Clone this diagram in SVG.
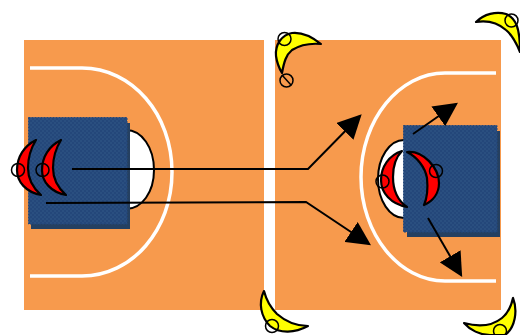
<svg xmlns="http://www.w3.org/2000/svg" width="520" height="335" viewBox="0 0 520 335">
<style>
.court{fill:#f79a4d}
.line{fill:none;stroke:#fff;stroke-width:3.500}
.oval{fill:#fff;stroke:#000;stroke-width:2}
.shadow{fill:#254061}
.zone{fill:url(#chk);stroke:#25497c;stroke-width:1;stroke-dasharray:2 1}
.red{fill:#f00;stroke:#000;stroke-width:2.200;stroke-linejoin:round}
.yel{fill:#ff0;stroke:#000;stroke-width:2.200;stroke-linejoin:round}
.ring{fill:none;stroke:#000;stroke-width:1.500}
.conn{fill:none;stroke:#000;stroke-width:2}
</style>
<defs>
<pattern id="chk" width="4" height="4" patternUnits="userSpaceOnUse">
<rect width="4" height="4" fill="#24477a"/>
<rect width="2" height="2" fill="#2a4f80"/>
<rect x="2" y="2" width="2" height="2" fill="#2a4f80"/>
</pattern>
<marker id="head" viewBox="0 0 10 10" refX="9" refY="5" markerUnits="userSpaceOnUse" markerWidth="24" markerHeight="24" orient="auto">
<path d="M0 0L10 5L0 10Z" fill="#000"/>
</marker>
</defs>
<g id="court-left">
<rect class="court" x="24" y="40" width="240" height="270"/>
<path class="line" d="M30 68H82C132 68 172 114 172 172S132 276 82 276H30"/>
</g>
<g id="court-right">
<rect class="court" x="275" y="40" width="226" height="270"/>
<path class="line" d="M496 73H445C399 73 361 120 361 177S399 281 445 281H496"/>
</g>
<g id="key-left">
<path class="oval" d="M120 130H126C142 130 154 148 154 170S142 209 126 209H120Z"/>
<rect class="shadow" x="31" y="123" width="99" height="106"/>
<rect class="zone" x="28.500" y="117.500" width="98.500" height="106.500"/>
</g>
<g id="key-right">
<ellipse class="oval" cx="404" cy="179" rx="26" ry="39"/>
<rect class="shadow" x="407" y="131" width="93" height="106"/>
<rect class="zone" x="403.500" y="125.500" width="93.500" height="106.500"/>
</g>
<g id="player-left-1">
<path class="red" d="M36 140C24 146 17 157 17 170C17 182 26 192 41 195C32 187 28 178 28 168C28 158 31 148 36 140Z"/>
<circle class="ring" cx="18" cy="170" r="6.500"/>
</g>
<g id="player-left-2">
<path class="red" d="M61 140C49 146 42 157 42 170C42 182 51 192 66 195C57 187 53 178 53 168C53 158 56 148 61 140Z"/>
<circle class="ring" cx="42.500" cy="170" r="6.500"/>
</g>
<g id="player-right-1">
<path class="red" d="M402 151C389 155 381 167 381 180C381 193 391 204 407 207C397 200 393 190 393 177C393 166 396 157 402 151Z"/>
<circle class="ring" cx="382.500" cy="181.500" r="6.500"/>
</g>
<g id="player-right-2">
<path class="red" d="M407 152C423 150 439 168 439 183C439 193 433 201 424 205C428 196 428 188 427 178C425 167 417 157 407 152Z"/>
<circle class="ring" cx="436" cy="171" r="6.500"/>
</g>
<g id="defender-top">
<path class="yel" d="M321 44C311 36 301 32 292 33C282 35 275 44 276 56C277 63 279 68 282 73C284 62 286 55 292 50C300 45 310 43 321 44Z"/>
<circle class="ring" cx="284.500" cy="39" r="6.500"/>
<circle class="ring" cx="286.500" cy="80.500" r="6.500"/>
<path class="ring" d="M282 75L291 85"/>
</g>
<g id="defender-bottom-left">
<path class="yel" d="M264 291C258 303 261 317 270 326C280 334 295 333 308 326C296 326 285 321 277 314C270 307 266 299 264 291Z"/>
<circle class="ring" cx="272" cy="326" r="6.500"/>
</g>
<g id="defender-bottom-right">
<path class="yel" d="M513 298C511 307 507 314 502 318C492 326 478 327 464 323C470 330 480 335 490 335H505C515 328 518 311 513 298Z"/>
<circle class="ring" cx="500" cy="331" r="6.500"/>
</g>
<g id="defender-top-right">
<path class="yel" d="M476 22C484 14 496 11 506 14C516 18 520 28 520 52C516 42 512 35 506 30C498 23 488 20 476 22Z"/>
<circle class="ring" cx="511.500" cy="20.500" r="6.500"/>
</g>
<g id="connectors">
<path class="conn" marker-end="url(#head)" d="M72 169H308L360 116"/>
<path class="conn" marker-end="url(#head)" d="M46 203L306 202L369 244"/>
<path class="conn" marker-end="url(#head)" d="M413 134L456 104"/>
<path class="conn" marker-end="url(#head)" d="M428 218L461 275"/>
</g>
</svg>
